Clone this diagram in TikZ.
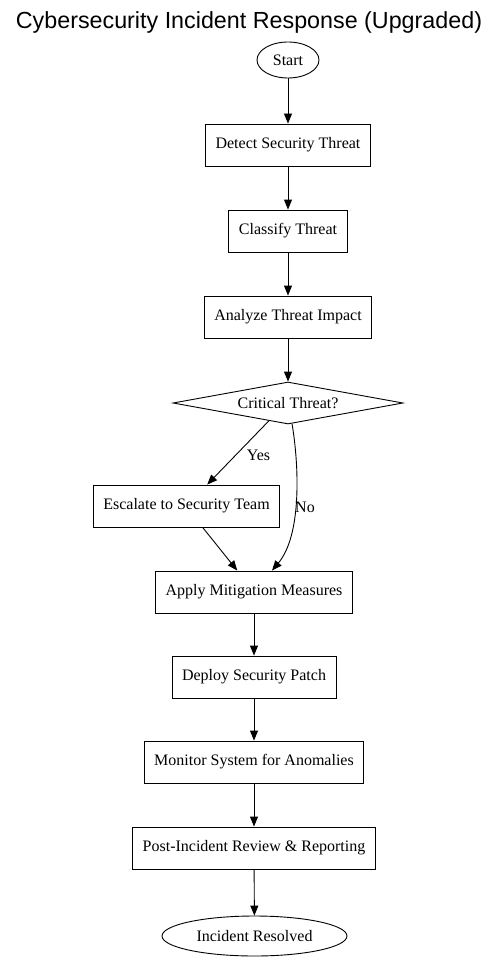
\documentclass[tikz,border=0pt]{standalone}
\usepackage{fontspec}
\setmainfont{Liberation Serif}
\newfontfamily\titlefont{Liberation Sans}
\usetikzlibrary{arrows.meta,shapes.geometric}

\begin{document}
\begin{tikzpicture}[x=1pt,y=-1pt,
  every node/.style={font=\fontsize{16}{19}\selectfont},
  box/.style={draw,rectangle,line width=0.9pt,inner xsep=10pt,inner ysep=0pt,minimum height=42pt},
  oval/.style={draw,ellipse,line width=0.9pt,inner sep=0pt},
  decide/.style={draw,diamond,line width=0.9pt,aspect=5.5,inner sep=0pt,minimum width=230pt,minimum height=42pt},
  flow/.style={-{Triangle[length=10pt,width=8pt]},line width=0.9pt}]
  \useasboundingbox (0,0) rectangle (496,960);
  \node (title) at (249,22) {\titlefont\fontsize{23.3}{27}\selectfont Cybersecurity Incident Response (Upgraded)};
  % nodes
  \node [oval,minimum width=62pt,minimum height=36pt] (start) at (288,60) {Start};
  \node [box] (detect) at (288,145) {Detect Security Threat};
  \node [box] (classify) at (288,231) {Classify Threat};
  \node [box] (analyze) at (288,317) {Analyze Threat Impact};
  \node [decide] (critical) at (288,403) {Critical Threat?};
  \node [box] (escalate) at (186.5,506) {Escalate to Security Team};
  \node [box] (apply) at (254,592) {Apply Mitigation Measures};
  \node [box] (deploy) at (254,677) {Deploy Security Patch};
  \node [box] (monitor) at (254,762) {Monitor System for Anomalies};
  \node [box] (review) at (254,848) {Post-Incident Review \& Reporting};
  \node [oval,minimum width=185pt,minimum height=40pt] (resolved) at (254.5,936) {Incident Resolved};
  % edges
  \draw [flow] (start) -- (detect);
  \draw [flow] (detect) -- (classify);
  \draw [flow] (classify) -- (analyze);
  \draw [flow] (analyze) -- (critical);
  \draw [flow] (critical.223) -- (escalate.46);
  \node (yeslabel) at (258.5,455) {Yes};
  \draw [flow] (critical.281) .. controls (299,465) and (302,535) .. (apply.50);
  \node (nolabel) at (305,507) {No};
  \draw [flow] (escalate.-53) -- (apply.128);
  \draw [flow] (apply) -- (deploy);
  \draw [flow] (deploy) -- (monitor);
  \draw [flow] (monitor) -- (review);
  \draw [flow] (review) -- (resolved);
\end{tikzpicture}
\end{document}
